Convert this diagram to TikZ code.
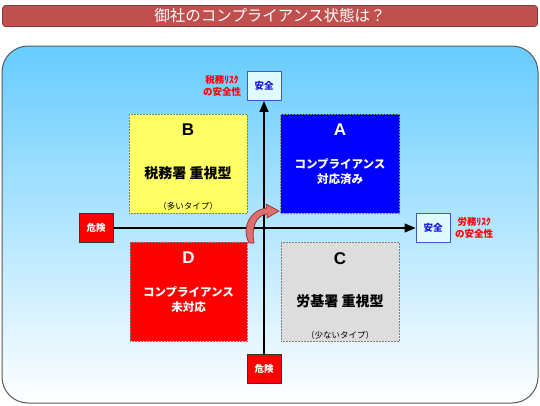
\documentclass[tikz,border=0pt]{standalone}
\usepackage{fontspec}
\setmainfont{Noto Sans CJK JP}
\newfontfamily\latinf{Liberation Sans}
\usetikzlibrary{arrows.meta}
\definecolor{titlered}{RGB}{192,80,77}
\definecolor{titleborder}{RGB}{140,56,54}
\definecolor{skyb}{RGB}{102,204,255}
\definecolor{safefill}{RGB}{225,250,255}
\definecolor{safeborder}{RGB}{60,90,200}
\definecolor{safetext}{RGB}{20,20,220}
\definecolor{qyellow}{RGB}{255,255,102}
\definecolor{qblue}{RGB}{0,0,255}
\definecolor{qred}{RGB}{255,0,0}
\definecolor{qgray}{RGB}{221,221,221}
\definecolor{arrfill}{RGB}{222,110,110}
\definecolor{arrborder}{RGB}{150,45,45}
\tikzset{
  quad/.style={draw=gray, densely dotted, line width=0.5pt},
  safebox/.style={draw=safeborder, fill=safefill, line width=0.9pt, minimum width=34pt, minimum height=29pt, inner sep=0pt, text=safetext, font=\fontsize{9.5}{11}\selectfont\bfseries},
  dangerbox/.style={draw=black!80, fill=qred, line width=0.9pt, minimum width=34pt, minimum height=29pt, inner sep=0pt, text=white, font=\fontsize{9.5}{11}\selectfont\bfseries},
  risklabel/.style={text=qred, font=\fontsize{9.5}{12}\selectfont\bfseries, align=center, inner sep=0pt},
  letter/.style={font=\latinf\fontsize{17}{20}\selectfont\bfseries, inner sep=0pt},
  qtext/.style={font=\fontsize{11.5}{15}\selectfont\bfseries, align=center, inner sep=0pt},
  qbig/.style={font=\fontsize{14}{17}\selectfont\bfseries, inner sep=0pt},
  qsmall/.style={font=\fontsize{8.5}{10}\selectfont, inner sep=0pt},
  axis/.style={line width=1.2pt, -{Triangle[length=11pt,width=9pt]}}
}
\begin{document}
\begin{tikzpicture}[x=1pt,y=-1pt]
\useasboundingbox (0,0) rectangle (540,405);
% title bar
\node[draw=titleborder, fill=titlered, rounded corners=3pt, line width=0.8pt,
  minimum width=535pt, minimum height=21pt, inner sep=0pt, text=white,
  font=\fontsize{15.5}{18}\selectfont] (title) at (270,16) {御社のコンプライアンス状態は？};
% frame
\shade[top color=skyb, bottom color=white, draw=black!65, line width=1pt, rounded corners=26pt]
  (2,46) rectangle (538,403);
% quadrants
\node[quad, fill=qyellow, minimum width=118pt, minimum height=99pt, inner sep=0pt] (B) at (188,163.5) {};
\node[quad, fill=qblue, minimum width=119pt, minimum height=99pt, inner sep=0pt] (A) at (340,163.5) {};
\node[quad, fill=qred, minimum width=117pt, minimum height=99pt, inner sep=0pt] (D) at (188.5,291.5) {};
\node[quad, fill=qgray, minimum width=118pt, minimum height=99pt, inner sep=0pt] (C) at (340,291.5) {};
% quadrant texts
\node[letter] (Bl) at (188,130) {B};
\node[qbig] (Bt) at (188,173) {税務署 重視型};
\node[qsmall] (Bs) at (188,206) {（多いタイプ）};
\node[letter, text=white] (Al) at (340,130) {A};
\node[qtext, text=white] (At) at (340,172) {コンプライアンス\\対応済み};
\node[letter, text=white] (Dl) at (188.5,258) {D};
\node[qtext, text=white] (Dt) at (188.5,300) {コンプライアンス\\未対応};
\node[letter] (Cl) at (340,259) {C};
\node[qbig] (Ct) at (340,301) {労基署 重視型};
\node[qsmall] (Cs) at (340,335) {（少ないタイプ）};
% axis boxes
\node[safebox] (safeT) at (264,86) {安全};
\node[safebox] (safeR) at (433,228) {安全};
\node[dangerbox] (dangL) at (96,228) {危険};
\node[dangerbox] (dangB) at (264,369) {危険};
% axes
\draw[axis] (dangB.north) -- (safeT.south);
\draw[axis] (dangL.east) -- (safeR.west);
% risk labels
\node[risklabel] (lblT) at (222,86) {税務ﾘｽｸ\\の安全性};
\node[risklabel, anchor=west] (lblR) at (455,228) {労務ﾘｽｸ\\の安全性};
% curved arrow
\filldraw[fill=arrfill, draw=arrborder, line width=0.7pt, line join=round]
  (249,243) .. controls (241,227) and (250,210) .. (267,208)
  -- (266,204) -- (279,211) -- (267,218) -- (267,214)
  .. controls (256,215) and (251,228) .. (254,243) -- cycle;
\end{tikzpicture}
\end{document}
